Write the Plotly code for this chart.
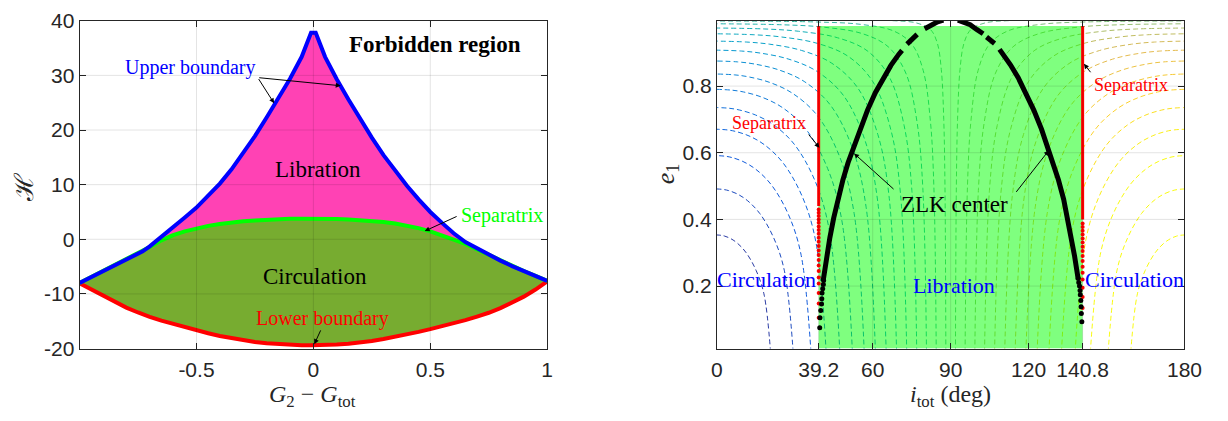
import plotly.graph_objects as go
from plotly.colors import sample_colorscale

# ---------------- Left panel data ----------------
G_X = [-1.0, -0.95, -0.9, -0.85, -0.8, -0.75, -0.73, -0.7, -0.65, -0.6, -0.55, -0.5, -0.45, -0.4,
       -0.35, -0.3, -0.25, -0.2, -0.15, -0.1, -0.05, -0.01, 0.0, 0.01, 0.05, 0.1, 0.15, 0.2, 0.25,
       0.3, 0.35, 0.4, 0.45, 0.5, 0.55, 0.6, 0.65, 0.7, 0.73, 0.75, 0.8, 0.85, 0.9, 0.95, 1.0]
UPPER_H = [-8.0, -6.9, -5.8, -4.7, -3.6, -2.6, -2.2, -1.3, 0.4, 2.2, 4.0, 5.8, 7.9, 10.2,
           12.8, 15.7, 18.9, 22.3, 25.8, 29.4, 33.4, 37.8, 37.8, 37.8, 33.4, 29.3, 25.6, 22.0, 18.6,
           15.4, 12.5, 9.8, 7.3, 5.0, 3.0, 1.1, -0.5, -1.7, -2.4, -2.8, -3.9, -4.9, -5.8, -6.7, -7.6]
SEPARATRIX_H = [-8.0, -6.9, -5.8, -4.7, -3.6, -2.6, -2.2, -1.4, -0.2, 0.75, 1.45, 2.0, 2.45, 2.8,
                3.1, 3.3, 3.45, 3.58, 3.68, 3.74, 3.78, 3.8, 3.8, 3.8, 3.78, 3.72, 3.64, 3.52, 3.36,
                3.15, 2.88, 2.52, 2.05, 1.45, 0.75, -0.05, -0.85, -1.85, -2.4, -2.8, -3.9, -4.9, -5.8, -6.7, -7.6]
LOWER_H = [-8.05, -9.2, -10.4, -11.5, -12.5, -13.4, -13.75, -14.2, -14.9, -15.5, -16.1, -16.7, -17.2, -17.7,
           -18.1, -18.5, -18.8, -19.05, -19.2, -19.3, -19.38, -19.4, -19.4, -19.4, -19.35, -19.25, -19.1, -18.9, -18.6,
           -18.25, -17.85, -17.4, -16.95, -16.45, -15.95, -15.4, -14.8, -14.15, -13.75, -13.45, -12.6, -11.6, -10.5, -9.2, -7.7]
LEFT_XTICKS = [-0.5, 0, 0.5, 1]
LEFT_XTICKTEXT = ["-0.5", "0", "0.5", "1"]
LEFT_YTICKS = [-20, -10, 0, 10, 20, 30, 40]
LEFT_YTICKTEXT = ["-20", "-10", "0", "10", "20", "30", "40"]

# ---------------- Right panel data ----------------
RIGHT_XTICKS = [0, 39.2, 60, 90, 120, 140.8, 180]
RIGHT_XTICKTEXT = ["0", "39.2", "60", "90", "120", "140.8", "180"]
RIGHT_YTICKS = [0.2, 0.4, 0.6, 0.8]
RIGHT_YTICKTEXT = ["0.2", "0.4", "0.6", "0.8"]
SEP_I = [39.2, 140.8]
LIB_FILL_I = [39.2, 140.8, 140.8, 39.2]
LIB_FILL_E = [0.0125, 0.0125, 0.98, 0.98]

# dashed contour curves, left family (blue side); e-samples shared with the mirrored right family
CONTOUR_E = [
    [0, 0.1767, 0.2473, 0.3003, 0.3286, 0.3427, 0.3498, 0.3522, 0.3533],
    [0, 0.2457, 0.3439, 0.4176, 0.4569, 0.4766, 0.4864, 0.4898, 0.4913],
    [0, 0.2957, 0.4139, 0.5026, 0.5499, 0.5736, 0.5854, 0.5895, 0.5913],
    [0, 0.3353, 0.4694, 0.5699, 0.6236, 0.6504, 0.6638, 0.6685, 0.6705],
    [0, 0.3678, 0.5149, 0.6253, 0.6841, 0.7135, 0.7282, 0.7334, 0.7356],
    [0, 0.3951, 0.5531, 0.6717, 0.7349, 0.7665, 0.7823, 0.7878, 0.7902],
    [0, 0.4181, 0.5853, 0.7108, 0.7777, 0.8111, 0.8278, 0.8337, 0.8362],
    [0, 0.4376, 0.6126, 0.7439, 0.8139, 0.8489, 0.8664, 0.8726, 0.8752],
    [0, 0.4539, 0.6355, 0.7716, 0.8443, 0.8806, 0.8987, 0.9051, 0.9078],
    [0, 0.4675, 0.6544, 0.7947, 0.8695, 0.9069, 0.9256, 0.9321, 0.9349],
    [0, 0.4785, 0.6698, 0.8134, 0.8899, 0.9282, 0.9473, 0.9540, 0.9569],
    [0, 0.4871, 0.6819, 0.8281, 0.9060, 0.9450, 0.9645, 0.9713, 0.9742],
    [0, 0.4935, 0.6908, 0.8389, 0.9178, 0.9573, 0.9770, 0.9839, 0.9869],
    [0, 0.4977, 0.6967, 0.8460, 0.9256, 0.9654, 0.9853, 0.9923, 0.9953],
    [0, 0.4998, 0.6997, 0.8496, 0.9295, 0.9695, 0.9895, 0.996, 0.998, 0.9995],
]
CONTOUR_I_LEFT = [
    [20.7, 18.12, 15.09, 11.26, 7.91, 5.25, 3.05, 1.67, 0],
    [29.4, 26.01, 21.92, 16.54, 11.70, 7.80, 4.55, 2.50, 0],
    [36.25, 32.37, 27.59, 21.09, 15.06, 10.09, 5.90, 3.24, 0],
    [42.1, 38.04, 32.83, 25.46, 18.38, 12.39, 7.27, 4.00, 0],
    [47.36, 43.28, 37.83, 29.82, 21.79, 14.81, 8.72, 4.81, 0],
    [52.2, 48.15, 42.63, 34.19, 25.36, 17.40, 10.31, 5.70, 0],
    [56.74, 52.84, 47.41, 38.76, 29.25, 20.32, 12.13, 6.72, 0],
    [61.06, 57.44, 52.25, 43.62, 33.61, 23.73, 14.31, 7.97, 0],
    [65.2, 61.92, 57.09, 48.76, 38.50, 27.75, 16.98, 9.51, 0],
    [69.2, 66.31, 61.98, 54.22, 44.06, 32.62, 20.38, 11.52, 0],
    [73.1, 70.67, 66.95, 60.04, 50.42, 38.66, 24.91, 14.29, 0],
    [76.95, 75.07, 72.08, 66.34, 57.87, 46.48, 31.43, 18.53, 0],
    [80.7, 79.29, 77.08, 72.74, 65.99, 56.03, 40.75, 25.30, 0],
    [84.45, 83.54, 82.18, 79.46, 75.07, 68.04, 55.21, 38.29, 0],
    [88.15, 87.81, 87.34, 86.40, 84.84, 82.23, 76.77, 68.4, 58.8, 0],
]
# right family (yellow side), listed from the centre outwards; paired with CONTOUR_E[14], [13], ... [0]
CONTOUR_I_RIGHT = [
    [91.85, 92.19, 92.66, 93.60, 95.16, 97.77, 103.23, 111.6, 121.2, 180],
    [95.55, 96.46, 97.82, 100.54, 104.93, 111.96, 124.79, 141.71, 180],
    [99.3, 100.71, 102.92, 107.26, 114.01, 123.97, 139.25, 154.70, 180],
    [103.05, 104.93, 107.92, 113.66, 122.13, 133.52, 148.57, 161.47, 180],
    [106.9, 109.33, 113.05, 119.96, 129.58, 141.34, 155.09, 165.71, 180],
    [110.8, 113.69, 118.02, 125.78, 135.94, 147.38, 159.62, 168.48, 180],
    [114.8, 118.08, 122.91, 131.24, 141.50, 152.25, 163.02, 170.49, 180],
    [118.94, 122.56, 127.75, 136.38, 146.39, 156.27, 165.69, 172.03, 180],
    [123.26, 127.16, 132.59, 141.24, 150.75, 159.68, 167.87, 173.28, 180],
    [127.8, 131.85, 137.37, 145.81, 154.64, 162.60, 169.69, 174.30, 180],
    [132.64, 136.72, 142.17, 150.18, 158.21, 165.19, 171.28, 175.19, 180],
    [137.9, 141.96, 147.17, 154.54, 161.62, 167.61, 172.73, 176.00, 180],
    [143.75, 147.63, 152.41, 158.91, 164.94, 169.91, 174.10, 176.76, 180],
    [150.6, 153.99, 158.08, 163.46, 168.30, 172.20, 175.45, 177.50, 180],
    [159.3, 161.88, 164.91, 168.74, 172.09, 174.75, 176.95, 178.33, 180],
]

# ZLK centre: dense (drawn) segments and the sparse dots at the bottom
ZLK_I = [40.9, 41.5, 42.3, 43.5, 45.0, 46.5, 48.5, 50.5, 52.5, 55.0, 58.0, 61.0, 64.0, 67.0, 70.0, 71.3, None,
         73.2, 75.0, 77.1, None,
         80.0, 82.5, 85.0, 87.2, None,
         92.8, 95.0, 97.5, 100.0, 102.5, None,
         103.8, 105.3, 106.9, None,
         108.8, 110.0, 113.0, 116.0, 119.0, 122.0, 125.0, 127.5, 129.5, 131.5, 133.5, 135.0, 136.5, 137.7, 138.5, 139.1]
ZLK_E = [0.215, 0.25, 0.29, 0.345, 0.405, 0.46, 0.518, 0.57, 0.615, 0.67, 0.728, 0.78, 0.823, 0.862, 0.895, 0.907, None,
         0.926, 0.940, 0.955, None,
         0.972, 0.984, 0.993, 0.998, None,
         0.998, 0.993, 0.984, 0.97, 0.957, None,
         0.947, 0.938, 0.928, None,
         0.91, 0.897, 0.864, 0.825, 0.78, 0.728, 0.67, 0.615, 0.57, 0.518, 0.46, 0.405, 0.345, 0.29, 0.25, 0.22]
ZLK_DOT_I = [39.6, 39.7, 40.0, 40.3, 40.4, 40.5, 40.75, 41.0, 41.1,
             140.5, 140.3, 140.2, 140.1, 139.9, 139.8, 139.6, 139.3, 139.1]
ZLK_DOT_E = [0.075, 0.105, 0.127, 0.146, 0.162, 0.179, 0.192, 0.205, 0.217,
             0.093, 0.118, 0.138, 0.157, 0.174, 0.187, 0.2, 0.211, 0.223]

# separatrix (red): solid upper part and dotted lower part
SEP_LINE_LEFT_E = [0.44, 0.98]
SEP_LINE_RIGHT_E = [0.40, 0.98]
SEP_DOT_LEFT_E = [0.105, 0.148, 0.179, 0.208, 0.226, 0.245, 0.262, 0.278, 0.293, 0.307, 0.32,
                  0.333, 0.345, 0.357, 0.368, 0.379, 0.39, 0.40, 0.41, 0.42, 0.43]
SEP_DOT_RIGHT_E = [0.134, 0.167, 0.195, 0.22, 0.24, 0.258, 0.275, 0.29, 0.305, 0.318, 0.331,
                   0.343, 0.355, 0.366, 0.377, 0.388]

# ---------------- styling ----------------
SANS = "Liberation Sans, Arial, Helvetica, sans-serif"
SERIF = "Liberation Serif, Times New Roman, serif"
AX = "rgb(38,38,38)"
PARULA = [[0.0, 'rgb(53,42,135)'], [0.1, 'rgb(15,92,221)'], [0.2, 'rgb(18,125,216)'],
          [0.3, 'rgb(7,156,207)'], [0.4, 'rgb(21,177,180)'], [0.5, 'rgb(89,189,140)'],
          [0.6, 'rgb(165,190,107)'], [0.7, 'rgb(225,185,82)'], [0.8, 'rgb(252,206,46)'],
          [0.9, 'rgb(249,251,14)'], [1.0, 'rgb(249,251,14)']]

fig = go.Figure()

# ---- left panel ----
fig.add_trace(go.Scatter(x=G_X + G_X[::-1], y=SEPARATRIX_H + LOWER_H[::-1], fill='toself',
                         fillcolor='#77AC30', line=dict(width=0), mode='lines',
                         xaxis='x', yaxis='y', hoverinfo='skip', showlegend=False))
fig.add_trace(go.Scatter(x=G_X + G_X[::-1], y=UPPER_H + SEPARATRIX_H[::-1], fill='toself',
                         fillcolor='#FF42B4', line=dict(width=0), mode='lines',
                         xaxis='x', yaxis='y', hoverinfo='skip', showlegend=False))
fig.add_trace(go.Scatter(x=G_X, y=LOWER_H, mode='lines', line=dict(color='#FF0000', width=4),
                         xaxis='x', yaxis='y', showlegend=False))
fig.add_trace(go.Scatter(x=G_X, y=SEPARATRIX_H, mode='lines', line=dict(color='#00FF00', width=4),
                         xaxis='x', yaxis='y', showlegend=False))
fig.add_trace(go.Scatter(x=G_X, y=UPPER_H, mode='lines', line=dict(color='#0000FF', width=4),
                         xaxis='x', yaxis='y', showlegend=False))

# ---- right panel ----
n_lev = len(CONTOUR_I_LEFT) + len(CONTOUR_I_RIGHT) + 1
for k, (ci, ce) in enumerate(zip(CONTOUR_I_LEFT, CONTOUR_E), start=1):
    col = sample_colorscale(PARULA, [k / n_lev])[0]
    fig.add_trace(go.Scatter(x=ci, y=ce, mode='lines', line=dict(color=col, width=1, dash='5px,3px', shape='spline'),
                             xaxis='x2', yaxis='y2', hoverinfo='skip', showlegend=False))
for m, ci in enumerate(CONTOUR_I_RIGHT):
    k = len(CONTOUR_I_LEFT) + 1 + m
    ce = CONTOUR_E[len(CONTOUR_E) - 1 - m]
    col = sample_colorscale(PARULA, [k / n_lev])[0]
    fig.add_trace(go.Scatter(x=ci, y=ce, mode='lines', line=dict(color=col, width=1, dash='5px,3px', shape='spline'),
                             xaxis='x2', yaxis='y2', hoverinfo='skip', showlegend=False))

fig.add_trace(go.Scatter(x=LIB_FILL_I, y=LIB_FILL_E, fill='toself', fillcolor='rgba(0,255,0,0.5)',
                         line=dict(width=0), mode='lines', xaxis='x2', yaxis='y2',
                         hoverinfo='skip', showlegend=False))
fig.add_trace(go.Scatter(x=[SEP_I[0]] * len(SEP_LINE_LEFT_E), y=SEP_LINE_LEFT_E, mode='lines',
                         line=dict(color='#FF0000', width=3), xaxis='x2', yaxis='y2', showlegend=False))
fig.add_trace(go.Scatter(x=[SEP_I[1]] * len(SEP_LINE_RIGHT_E), y=SEP_LINE_RIGHT_E, mode='lines',
                         line=dict(color='#FF0000', width=3), xaxis='x2', yaxis='y2', showlegend=False))
fig.add_trace(go.Scatter(x=[SEP_I[0]] * len(SEP_DOT_LEFT_E) + [SEP_I[1]] * len(SEP_DOT_RIGHT_E),
                         y=SEP_DOT_LEFT_E + SEP_DOT_RIGHT_E, mode='markers',
                         marker=dict(color='#FF0000', size=4), xaxis='x2', yaxis='y2', showlegend=False))
fig.add_trace(go.Scatter(x=ZLK_I, y=ZLK_E, mode='lines', line=dict(color='black', width=5),
                         connectgaps=False, xaxis='x2', yaxis='y2', showlegend=False))
fig.add_trace(go.Scatter(x=ZLK_DOT_I, y=ZLK_DOT_E, mode='markers', marker=dict(color='black', size=5),
                         xaxis='x2', yaxis='y2', showlegend=False))

# ---- axes ----
def axis_common(**kw):
    d = dict(showline=True, linecolor=AX, linewidth=1, mirror='ticks', ticks='inside', ticklen=6,
             tickcolor=AX, showgrid=False, zeroline=False, ticklabeloverflow='allow',
             tickfont=dict(family=SANS, size=21, color=AX))
    d.update(kw)
    return d

YDOM = [0.1544, 0.978]
fig.update_layout(
    width=1228, height=421, margin=dict(l=0, r=0, t=0, b=0),
    paper_bgcolor='white', plot_bgcolor='white', showlegend=False,
    xaxis=axis_common(domain=[0.0611, 0.4495], range=[-1, 1], tickvals=LEFT_XTICKS, ticktext=LEFT_XTICKTEXT,
                      anchor='y', ticklabelstandoff=2),
    yaxis=axis_common(domain=YDOM, range=[-20, 40], tickvals=LEFT_YTICKS, ticktext=LEFT_YTICKTEXT, anchor='x'),
    xaxis2=axis_common(domain=[0.5904, 0.9788], range=[0, 180], tickvals=RIGHT_XTICKS, ticktext=RIGHT_XTICKTEXT,
                       anchor='y2', ticklabelstandoff=2),
    yaxis2=axis_common(domain=YDOM, range=[0.0125, 0.996], tickvals=RIGHT_YTICKS, ticktext=RIGHT_YTICKTEXT, anchor='x2'),
)

# grid lines drawn above the fills (as in the reference)
GRID = 'rgba(0,0,0,0.11)'
shapes = []
for xv in [-0.5, 0, 0.5]:
    shapes.append(dict(type='line', xref='x', yref='y domain', x0=xv, x1=xv, y0=0, y1=1,
                       line=dict(color=GRID, width=1), layer='above'))
for yv in [-10, 0, 10, 20, 30]:
    shapes.append(dict(type='line', xref='x domain', yref='y', x0=0, x1=1, y0=yv, y1=yv,
                       line=dict(color=GRID, width=1), layer='above'))
for xv in [39.2, 60, 90, 120, 140.8]:
    shapes.append(dict(type='line', xref='x2', yref='y2 domain', x0=xv, x1=xv, y0=0, y1=1,
                       line=dict(color=GRID, width=1), layer='above'))
for yv in RIGHT_YTICKS:
    shapes.append(dict(type='line', xref='x2 domain', yref='y2', x0=0, x1=1, y0=yv, y1=yv,
                       line=dict(color=GRID, width=1), layer='above'))
fig.update_layout(shapes=shapes)

# ---- annotations ----
ann = []
def txt(x, y, s, size, color='black', xref='x', yref='y', angle=0, family=SERIF):
    ann.append(dict(x=x, y=y, xref=xref, yref=yref, text=s, showarrow=False, textangle=angle,
                    font=dict(family=family, size=size, color=color), xanchor='center', yanchor='middle'))

def arrow(hx, hy, tx, ty, xref='x', yref='y'):
    ann.append(dict(x=hx, y=hy, ax=tx, ay=ty, xref=xref, yref=yref, axref=xref, ayref=yref,
                    text='', showarrow=True, arrowhead=2, arrowsize=1, arrowwidth=1,
                    arrowcolor='black', standoff=0, startstandoff=0))

txt(0.521, 35.7, '<b>Forbidden region</b>', 23)
txt(-0.527, 31.5, 'Upper boundary', 20, 'blue')
arrow(-0.168, 24.9, -0.238, 29.6)
arrow(0.117, 28.1, -0.238, 29.6)
txt(0.02, 12.8, 'Libration', 23)
txt(0.806, 4.3, 'Separatrix', 20, '#00FF00')
arrow(0.476, 1.5, 0.619, 4.3)
txt(0.007, -6.8, 'Circulation', 23)
txt(0.037, -14.5, 'Lower boundary', 20, 'red')
arrow(0.004, -19.2, 0.034, -16.4)

txt(20.1, 0.688, 'Separatrix', 18, 'red', 'x2', 'y2')
arrow(39.5, 0.615, 34.9, 0.659, 'x2', 'y2')
txt(159.4, 0.803, 'Separatrix', 18, 'red', 'x2', 'y2')
arrow(141.3, 0.867, 144.3, 0.837, 'x2', 'y2')
txt(91.4, 0.446, 'ZLK center', 23, 'black', 'x2', 'y2')
arrow(52.8, 0.598, 68.6, 0.487, 'x2', 'y2')
arrow(127.8, 0.607, 114.8, 0.478, 'x2', 'y2')
txt(19.2, 0.220, 'Circulation', 22, 'blue', 'x2', 'y2')
txt(160.8, 0.221, 'Circulation', 22, 'blue', 'x2', 'y2')
txt(91.4, 0.203, 'Libration', 22, 'blue', 'x2', 'y2')

# axis titles
txt(0.2545, 0.036, '<i>G</i><sub>2</sub> − <i>G</i><sub>tot</sub>', 24, AX, 'paper', 'paper')
txt(0.7842, 0.036, '<i>i</i><sub>tot</sub> (deg)', 24, AX, 'paper', 'paper')
txt(0.0150, 0.5594, 'ℋ', 26, AX, 'paper', 'paper', angle=-90, family='DejaVu Serif, serif')
txt(0.5487, 0.5938, '<i>e</i><sub>1</sub>', 26, AX, 'paper', 'paper', angle=-90)

fig.update_layout(annotations=ann)
fig.write_html("out.html")
